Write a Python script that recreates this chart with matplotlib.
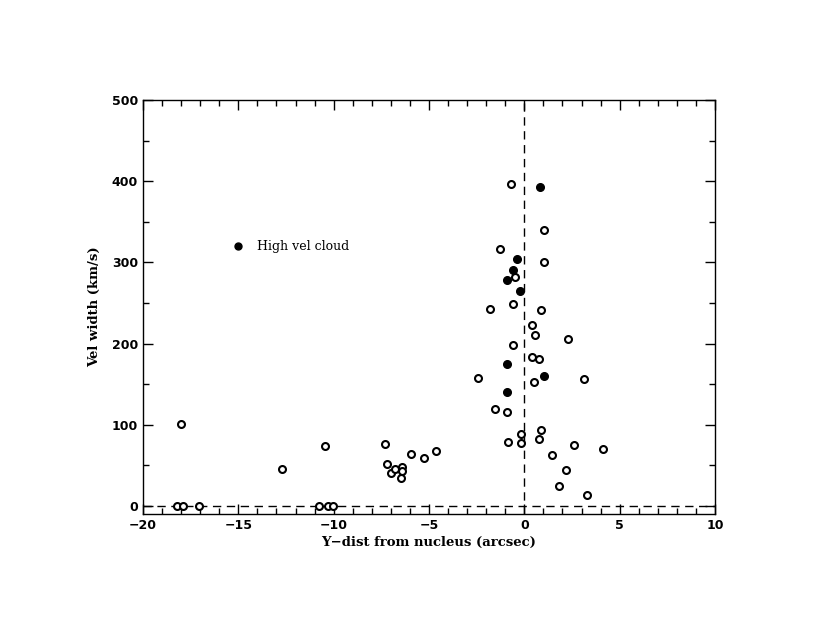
import matplotlib
matplotlib.use("Agg")
import matplotlib.pyplot as plt
from matplotlib.ticker import MultipleLocator

# Open circles: normal clouds
open_x = [-0.72, 1.03, -1.30, 1.03, -0.49, -1.82, -0.60, 0.89, 0.40, 0.57, 2.30, -0.58,
          0.42, 0.78, -2.45, 0.49, 3.13, -1.52, -0.93, 0.89, -0.18, 0.78, -0.88, -0.19,
          2.58, 4.12, -5.95, -4.64, -5.28, 1.43, -6.44, -6.39, -6.49, 2.18, 1.83, 3.28,
          -18.0, -10.45, -12.71, -7.29, -7.20, -7.01, -6.77,
          -18.23, -17.92, -17.05, -10.76, -10.28, -10.02]
open_y = [396, 340, 317, 300, 282, 243, 249, 241, 223, 210, 205, 198,
          183, 181, 157, 153, 156, 119, 116, 94, 88, 83, 79, 78,
          75, 70, 64, 68, 59, 63, 48, 43, 34, 44, 25, 13,
          101, 74, 45, 76, 51, 41, 46,
          0, 0, 0, 0, 0, 0]

# Filled circles: high velocity cloud
fill_x = [0.83, -0.37, -0.61, -0.90, -0.23, -0.93, 1.03, -0.93]
fill_y = [393, 304, 291, 278, 265, 175, 160, 140]

legend_x = [-15.0]
legend_y = [320]
legend_label = "High vel cloud"

fig = plt.figure(figsize=(8.25, 6.38), dpi=100)
ax = fig.add_axes([143/825, 1 - 514/638, (715-143)/825, (514-100)/638])

ax.axvline(0, color='black', lw=1, ls=(0, (6, 4)))
ax.axhline(0, color='black', lw=1, ls=(0, (6, 4)))

ax.plot(open_x, open_y, 'o', ms=5, mfc='white', mec='black', mew=1.5, ls='none')
ax.plot(fill_x, fill_y, 'o', ms=5.5, mfc='black', mec='black', mew=1, ls='none')
ax.plot(legend_x, legend_y, 'o', ms=5, mfc='black', mec='black', ls='none')
ax.text(-14.0, 320, legend_label, fontsize=9, family='DejaVu Serif', va='center', ha='left')

ax.set_xlim(-20, 10)
ax.set_ylim(-10, 500)
ax.xaxis.set_major_locator(MultipleLocator(5))
ax.xaxis.set_minor_locator(MultipleLocator(1))
ax.yaxis.set_major_locator(MultipleLocator(100))
ax.yaxis.set_minor_locator(MultipleLocator(50))
ax.tick_params(which='both', direction='in', top=True, right=True, width=1)
ax.tick_params(which='major', length=7)
ax.tick_params(which='minor', length=4)
for lab in ax.get_xticklabels() + ax.get_yticklabels():
    lab.set_fontfamily('DejaVu Sans')
    lab.set_fontweight('bold')
    lab.set_fontsize(9)
for s in ax.spines.values():
    s.set_linewidth(1)

ax.set_xlabel("Y\u2212dist from nucleus (arcsec)", fontsize=9.5, family='DejaVu Serif', fontweight='bold', labelpad=3)
ax.set_ylabel("Vel width (km/s)", fontsize=9.5, family='DejaVu Serif', fontweight='bold', labelpad=8)

fig.savefig("out.png", dpi=100)
